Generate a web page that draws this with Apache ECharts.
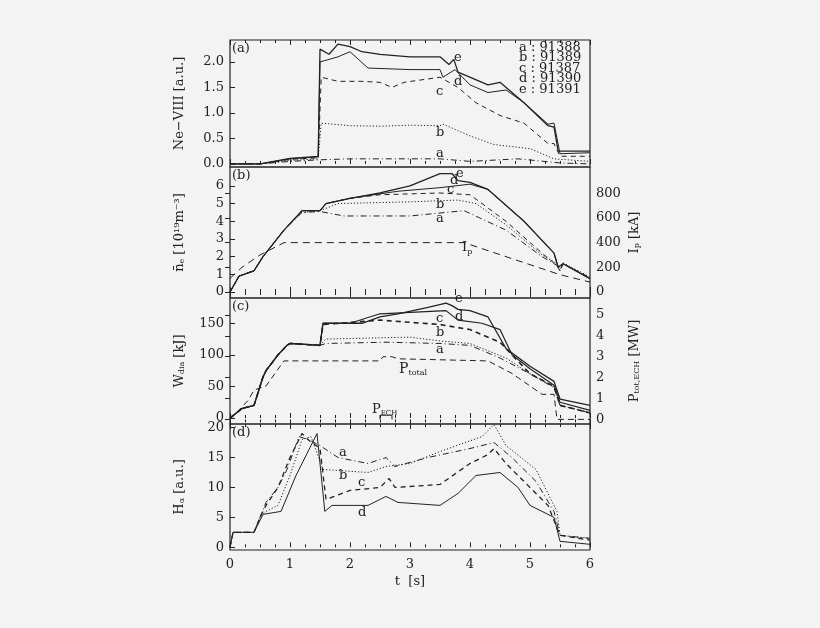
<!DOCTYPE html>
<html><head><meta charset="utf-8">
<script src="https://cdn.jsdelivr.net/npm/echarts@6/dist/echarts.min.js"></script>
<style>html,body{margin:0;background:#f3f3f3}#c{width:820px;height:628px}</style>
</head><body><div id="c"></div>
<script>
// (a) Ne-VIII [a.u.]
const neA = [[0,0],[0.5,0],[1,0.05],[1.47,0.08],[1.5,0.1],[2,0.1],[3,0.1],[3.5,0.1],[4,0.05],[4.8,0.1],[5.5,0.02],[6,0]];
const neB = [[0,0],[0.5,0],[1,0.07],[1.47,0.1],[1.52,0.8],[2,0.75],[2.5,0.74],[3,0.76],[3.5,0.75],[3.55,0.78],[4,0.55],[4.4,0.38],[5,0.3],[5.4,0.1],[6,0.05]];
const neC = [[0,0],[0.5,0],[1,0.09],[1.47,0.12],[1.52,1.7],[1.8,1.62],[2.2,1.62],[2.5,1.6],[2.7,1.5],[2.9,1.6],[3.5,1.7],[3.8,1.5],[4.1,1.2],[4.5,0.95],[4.9,0.8],[5.3,0.4],[5.4,0.4],[5.5,0.15],[6,0.15]];
const neD = [[0,0],[0.5,0],[1,0.1],[1.47,0.14],[1.5,2.0],[1.8,2.1],[2,2.2],[2.3,1.88],[3,1.85],[3.5,1.85],[3.55,1.7],[3.75,1.85],[4,1.55],[4.3,1.4],[4.6,1.45],[4.9,1.2],[5.3,0.78],[5.4,0.8],[5.5,0.2],[6,0.22]];
const neE = [[0,0],[0.5,0],[1,0.11],[1.47,0.15],[1.5,2.25],[1.65,2.15],[1.8,2.35],[2,2.3],[2.2,2.2],[2.5,2.15],[3,2.1],[3.5,2.1],[3.65,1.95],[3.73,2.05],[3.8,1.8],[4.3,1.55],[4.5,1.6],[4.9,1.2],[5.3,0.75],[5.4,0.72],[5.47,0.25],[6,0.25]];
// (b) line-averaged density [1e19 m^-3] and Ip [kA]
const nA = [[0,0],[0.15,0.9],[0.4,1.2],[0.55,2],[0.9,3.5],[1.2,4.5],[1.5,4.55],[1.9,4.3],[3,4.3],[3.9,4.6],[4.6,3.5],[5.2,2.0],[5.45,1.5],[5.5,1.2],[5.55,1.6],[6,0.8]];
const nB = [[0,0],[0.15,0.9],[0.4,1.2],[0.55,2],[0.9,3.5],[1.2,4.5],[1.5,4.6],[1.8,5.0],[3,5.1],[3.8,5.2],[4.1,5.0],[4.6,3.8],[5.2,2.1],[5.45,1.6],[5.5,1.2],[5.55,1.65],[6,0.85]];
const nC = [[0,0],[0.15,0.9],[0.4,1.2],[0.55,2],[0.9,3.5],[1.2,4.6],[1.5,4.6],[1.6,5.0],[2,5.3],[2.5,5.5],[3.5,5.6],[4,5.5],[4.6,4.0],[5.2,2.2],[5.45,1.5],[5.5,1.2],[5.55,1.6],[6,0.8]];
const nD = [[0,0],[0.15,0.9],[0.4,1.2],[0.55,2],[0.9,3.5],[1.2,4.6],[1.5,4.6],[1.6,5.0],[2,5.3],[2.8,5.7],[3.5,5.9],[4,6.1],[4.3,5.8],[4.9,4.0],[5.4,2.2],[5.47,1.4],[5.55,1.6],[6,0.75]];
const nE = [[0,0],[0.15,0.9],[0.4,1.2],[0.55,2],[0.9,3.5],[1.2,4.6],[1.5,4.6],[1.6,5.0],[2,5.3],[2.5,5.6],[3,6.0],[3.5,6.7],[3.7,6.7],[3.8,6.3],[4.0,6.2],[4.3,5.8],[4.9,4.0],[5.4,2.2],[5.47,1.4],[5.55,1.6],[6,0.75]];
const ip = [[0,110],[0.2,200],[0.5,300],[0.9,400],[3.9,400],[5.5,140],[6,80]];
// (c) W_dia [kJ] and P_tot [MW]
const wA = [[0,0],[0.2,15],[0.4,20],[0.55,65],[0.6,75],[0.8,100],[0.95,115],[1,118],[1.5,115],[1.6,118],[2.6,120],[3.5,118],[4,115],[4.5,95],[5,70],[5.4,48],[5.5,20],[6,8]];
const wB = [[0,0],[0.2,15],[0.4,20],[0.55,65],[0.6,75],[0.8,100],[0.95,115],[1,118],[1.5,115],[1.6,125],[3,128],[3.5,122],[4,118],[4.6,95],[5,70],[5.4,50],[5.5,20],[6,9]];
const wC = [[0,0],[0.2,15],[0.4,20],[0.55,65],[0.6,75],[0.8,100],[0.95,115],[1,118],[1.5,115],[1.55,148],[2.5,155],[3.5,148],[4,140],[4.5,120],[4.8,90],[5,70],[5.4,50],[5.5,20],[6,8]];
const wD = [[0,0],[0.2,15],[0.4,20],[0.55,65],[0.6,75],[0.8,100],[0.95,115],[1,118],[1.5,115],[1.55,150],[2,150],[2.5,165],[3.6,170],[3.8,155],[4.2,150],[4.5,140],[4.7,100],[5,78],[5.4,52],[5.5,25],[6,12]];
const wE = [[0,0],[0.2,15],[0.4,20],[0.55,65],[0.6,75],[0.8,100],[0.95,115],[1,118],[1.5,115],[1.55,150],[2.2,150],[2.5,160],[2.8,165],[3.3,175],[3.6,182],[3.7,178],[3.8,172],[4,170],[4.3,160],[4.6,110],[5,82],[5.4,58],[5.5,30],[6,20]];
const pTot = [[0,0],[0.3,0.9],[0.4,1.4],[0.6,1.6],[0.85,2.6],[0.9,2.8],[2.5,2.8],[2.55,3.0],[2.7,3.0],[2.8,2.9],[4.3,2.8],[4.7,2.2],[5.2,1.2],[5.4,1.2],[5.45,0],[6,0]];
const pEch = [[2.5,0],[2.5,0.2],[2.7,0.2],[2.7,0]];
// (d) H-alpha [a.u.]
const hA = [[0,0],[0.05,2.5],[0.4,2.5],[0.5,5],[0.6,7.5],[0.8,10],[0.95,13],[1.15,18.5],[1.3,18],[1.5,17],[1.8,15],[2.3,14],[2.6,15],[2.75,13.5],[3.3,15],[4,16.5],[4.4,17.5],[4.7,15],[5.1,11],[5.4,6],[5.5,2],[6,1.5]];
const hB = [[0,0],[0.05,2.5],[0.4,2.5],[0.5,5],[0.6,6],[0.8,7],[1,12],[1.2,18],[1.35,18.5],[1.55,13],[2.3,12.5],[2.6,13.5],[3,14],[3.5,16],[4.2,18.5],[4.4,20.5],[4.6,17],[5.1,13],[5.45,6],[5.5,2],[6,1.5]];
const hC = [[0,0],[0.05,2.5],[0.4,2.5],[0.5,5],[0.6,7],[0.8,10],[1,15],[1.2,19],[1.3,18],[1.5,16.5],[1.6,8],[2,9.5],[2.5,10],[2.65,11.5],[2.75,10],[3.5,10.5],[4,14],[4.3,15.5],[4.4,16.5],[4.6,14],[5,10],[5.3,7],[5.5,2],[6,1.2]];
const hD = [[0,0],[0.05,2.5],[0.4,2.5],[0.55,5.5],[0.85,6],[1.1,12],[1.45,19],[1.58,6],[1.7,7],[2.3,7],[2.6,8.5],[2.8,7.5],[3.5,7],[3.8,9],[4.1,12],[4.5,12.5],[4.8,10],[5,7],[5.4,5],[5.5,1],[6,0.5]];

const K = '#222';
const F = 'DejaVu Serif';
const DASHDOT = [6, 3, 1, 3], DOT = [1.2, 2], DASH = [5, 4];
const grids = [
  { left: 230, width: 360, top: 40, height: 127 },
  { left: 230, width: 360, top: 167, height: 131 },
  { left: 230, width: 360, top: 298, height: 126 },
  { left: 230, width: 360, top: 424, height: 126 }
].map(g => ({ ...g, show: true, borderColor: K, borderWidth: 1.2, backgroundColor: 'transparent' }));

const xAxes = [];
grids.forEach((g, i) => {
  ['bottom', 'top'].forEach(pos => xAxes.push({
    type: 'value', gridIndex: i, min: 0, max: 6, interval: 1, position: pos,
    axisLine: { show: false }, splitLine: { show: false },
    axisTick: { inside: true, length: 5, lineStyle: { color: K } },
    minorTick: { show: true, splitNumber: 4, length: 3, lineStyle: { color: K } },
    axisLabel: { show: i === 3 && pos === 'bottom', color: K, fontFamily: F, fontSize: 13, margin: 8 },
    name: i === 3 && pos === 'bottom' ? 't  [s]' : '', nameLocation: 'middle', nameGap: 25,
    nameTextStyle: { color: K, fontFamily: F, fontSize: 13 }
  }));
});

function yax(grid, min, max, ticks, name, pos, fmt) {
  return {
    type: 'value', gridIndex: grid, min, max, position: pos || 'left',
    axisLine: { show: false }, splitLine: { show: false },
    axisTick: { inside: true, length: 5, customValues: ticks, lineStyle: { color: K } },
    minorTick: { show: false },
    axisLabel: { customValues: ticks, color: K, fontFamily: F, fontSize: 13, margin: 6, formatter: fmt || (v => v) },
    name, nameLocation: 'middle', nameGap: pos === 'right' ? 38 : 44, nameRotate: 90,
    nameTextStyle: { color: K, fontFamily: F, fontSize: 13, rich: { s: { fontSize: 8, fontFamily: F, color: K, verticalAlign: 'bottom' } } }
  };
}
const yAxes = [
  yax(0, -0.06, 2.43, [0, 0.5, 1, 1.5, 2], 'Ne−VIII [a.u.]', 'left', v => v.toFixed(1)),
  yax(1, -0.34, 7.07, [0, 1, 2, 3, 4, 5, 6], 'n̄{s|e} [10¹⁹m⁻³]'),
  yax(1, -49, 1013, [0, 200, 400, 600, 800], 'I{s|p} [kA]', 'right'),
  yax(2, -9.5, 190, [0, 50, 100, 150], 'W{s|dia} [kJ]'),
  yax(2, -0.22, 5.81, [0, 1, 2, 3, 4, 5], 'P{s|tot,ECH} [MW]', 'right'),
  yax(3, -0.45, 20.6, [0, 5, 10, 15, 20], 'H{s|α} [a.u.]')
];

function line(data, x, y, type, w) {
  return { type: 'line', data, xAxisIndex: x, yAxisIndex: y, symbol: 'none', silent: true,
    lineStyle: { color: K, width: w || 1, type: type || 'solid' } };
}
const series = [
  line(neA, 0, 0, DASHDOT), line(neB, 0, 0, DOT), line(neC, 0, 0, DASH), line(neD, 0, 0), line(neE, 0, 0, 'solid', 1.3),
  line(nA, 2, 1, DASHDOT), line(nB, 2, 1, DOT), line(nC, 2, 1, DASH), line(nD, 2, 1), line(nE, 2, 1, 'solid', 1.3),
  line(ip, 2, 2, [7, 5]),
  line(wA, 4, 3, DASHDOT), line(wB, 4, 3, DOT), line(wC, 4, 3, DASH, 1.6), line(wD, 4, 3, 'solid', 1.2), line(wE, 4, 3, 'solid', 1.3),
  line(pTot, 4, 4, [6, 4]), line(pEch, 4, 4),
  line(hA, 6, 5, DASHDOT), line(hB, 6, 5, DOT), line(hC, 6, 5, DASH, 1.3), line(hD, 6, 5)
];

const labels = [
  ['(a)', 232, 42], ['(b)', 232, 169], ['(c)', 232, 300], ['(d)', 232, 426],
  ['e', 454, 51], ['d', 454, 75], ['c', 436, 85], ['b', 436, 126], ['a', 436, 147],
  ['e', 456, 167], ['d', 450, 174], ['c', 447, 183], ['b', 436, 198], ['a', 436, 212],
  ['e', 455, 292], ['d', 455, 310], ['c', 436, 312], ['b', 436, 326], ['a', 436, 343],
  ['a', 339, 446], ['b', 339, 469], ['c', 358, 476], ['d', 358, 506]
];
const legendTxt = ['a : 91388', 'b : 91389', 'c : 91387', 'd : 91390', 'e : 91391'];
const graphic = labels.map(([t, x, y]) => ({ type: 'text', left: x, top: y, style: { text: t, fill: K, font: '13px ' + F } }))
  .concat(legendTxt.map((t, i) => ({ type: 'text', left: 519, top: 41 + i * 10.5, style: { text: t, fill: K, font: '13px ' + F } })))
  .concat([
    { type: 'text', left: 462, top: 241, style: { text: '{n|I}{s|p}', rich: { n: { font: '13px ' + F, fill: K }, s: { font: '8px ' + F, fill: K, padding: [8, 0, 0, 0] } } } },
    { type: 'text', left: 399, top: 362, style: { text: '{n|P}{s|total}', rich: { n: { font: '14px ' + F, fill: K }, s: { font: '8px ' + F, fill: K, padding: [8, 0, 0, 0] } } } },
    { type: 'text', left: 372, top: 403, style: { text: '{n|P}{s|ECH}', rich: { n: { font: '13px ' + F, fill: K }, s: { font: '7px ' + F, fill: K, padding: [8, 0, 0, 0] } } } }
  ]);

const chart = echarts.init(document.getElementById('c'));
chart.setOption({
  backgroundColor: '#f3f3f3', animation: false,
  grid: grids, xAxis: xAxes, yAxis: yAxes, series, graphic
});
</script></body></html>
